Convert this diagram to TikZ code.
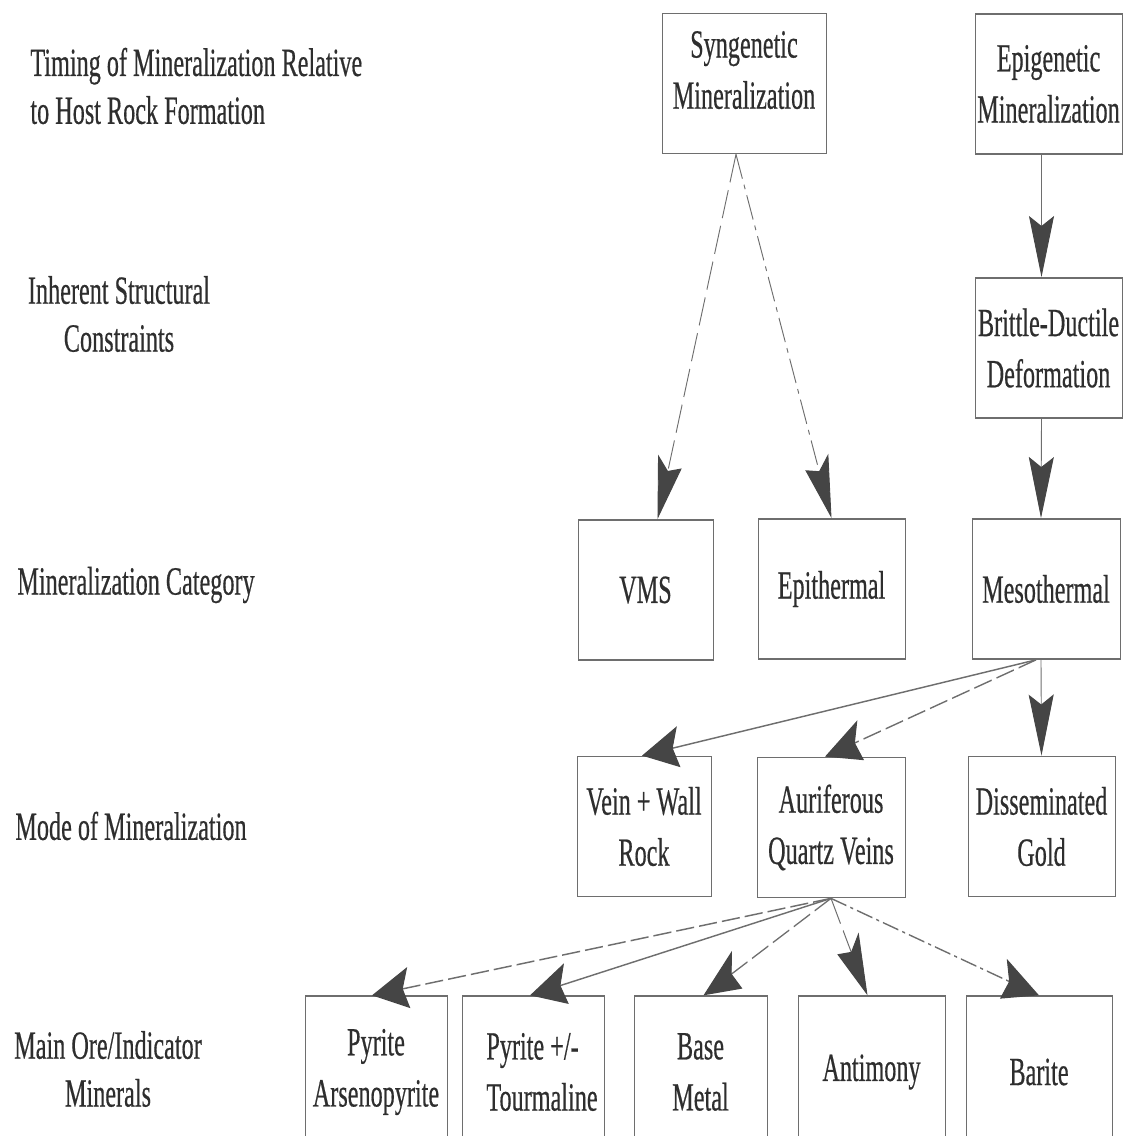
\documentclass[tikz,border=0pt]{standalone}
\usepackage{fontspec}
\setmainfont[FakeBold=0.6]{Liberation Serif}
\usetikzlibrary{arrows.meta}
\definecolor{linegray}{HTML}{6E6E6E}
\definecolor{tipgray}{HTML}{454545}
\definecolor{textgray}{HTML}{2E2E2E}
\tikzset{
  box/.style={draw=linegray, line width=0.45pt, minimum height=42.5pt, inner sep=0pt, align=center, text=textgray,
              font=\fontsize{12.1pt}{15.5pt}\selectfont},
  lbl/.style={text=textgray, inner sep=0pt},
  link/.style={draw=linegray, line width=0.45pt, -{Stealth[length=18.5pt, width=12.5pt, inset=3pt, color=tipgray]}},
  dlink/.style={link, dash pattern=on 9pt off 2.5pt},
  dotlink/.style={link, dash pattern=on 8pt off 2pt on 1.5pt off 2pt},
}
\begin{document}
\begin{tikzpicture}
  \useasboundingbox (0,0) rectangle (563pt,-568pt);
  \begin{scope}[transform canvas={yscale=1.65}, x=0.5pt, y=-0.30303pt,
                font=\fontsize{12.1pt}{14.5pt}\selectfont]
    % row titles
    \node[lbl, anchor=west, align=left] (timing) at (30,86) {Timing of Mineralization Relative\\to Host Rock Formation};
    \node[lbl, align=center] (inher) at (119,314) {Inherent Structural\\Constraints};
    \node[lbl, anchor=west] (cat) at (17,585) {Mineralization Category};
    \node[lbl, anchor=west] (mode) at (15,826) {Mode of Mineralization};
    \node[lbl, align=center] (ore) at (108,1069) {Main Ore/Indicator\\Minerals};

    % timing
    \node[box, minimum width=82pt] (syn) at (744,83.5) {Syngenetic\\Mineralization\\[-0.6em]};
    \node[box, minimum width=73.5pt] (epi) at (1048.5,84) {Epigenetic\\Mineralization};
    % structure
    \node[box, minimum width=73.5pt] (brit) at (1048.5,348) {Brittle-Ductile\\Deformation};
    % category
    \node[box, minimum width=67.5pt] (vms) at (645.5,590) {VMS};
    \node[box, minimum width=73.5pt] (epit) at (831.5,589) {Epithermal};
    \node[box, minimum width=74pt] (meso) at (1046,589) {Mesothermal};
    % mode
    \node[box, minimum width=67pt] (vein) at (644,826.5) {Vein + Wall\\Rock};
    \node[box, minimum width=74pt] (aur) at (831,827.5) {Auriferous\\Quartz Veins};
    \node[box, minimum width=73.5pt] (diss) at (1041.5,826.5) {Disseminated\\Gold};
    % minerals
    \node[box, minimum width=71pt, minimum height=46pt] (pa) at (376,1072) {Pyrite\\Arsenopyrite};
    \node[box, minimum width=71pt, minimum height=46pt, align=left] (pt) at (533,1072) {\hspace*{9pt}Pyrite +/-\\\hspace*{9pt}Tourmaline};
    \node[box, minimum width=66.5pt, minimum height=46pt] (bm) at (700.5,1072) {Base\\Metal};
    \node[box, minimum width=73.5pt, minimum height=46pt] (ant) at (871.5,1072) {Antimony};
    \node[box, minimum width=73pt, minimum height=46pt] (bar) at (1039,1072) {Barite};

    % connectors
    \draw[dlink] ([xshift=-4pt]syn.south) -- ([xshift=6pt]vms.north);
    \draw[dotlink] ([xshift=-4pt]syn.south) -- (epit.north);
    \draw[link] ([xshift=-3.5pt]epi.south) -- ([xshift=-3.5pt]brit.north);
    \draw[link] ([xshift=-3.5pt]brit.south) -- ([xshift=-2.5pt]meso.north);
    \draw[link] ([xshift=-2.5pt]meso.south) -- (diss.north);
    \draw[link] ([xshift=-5pt]meso.south) -- ([xshift=-1pt]vein.north);
    \draw[dlink] ([xshift=-5pt]meso.south) -- ([xshift=-3pt]aur.north);
    \draw[dlink] (aur.south) -- ([xshift=-2pt]pa.north);
    \draw[link] (aur.south) -- ([xshift=-1.5pt]pt.north);
    \draw[dlink] (aur.south) -- ([xshift=1.5pt]bm.north);
    \draw[dlink] (aur.south) -- ([xshift=-2pt]ant.north);
    \draw[dotlink] (aur.south) -- (bar.north);
  \end{scope}
\end{tikzpicture}
\end{document}
